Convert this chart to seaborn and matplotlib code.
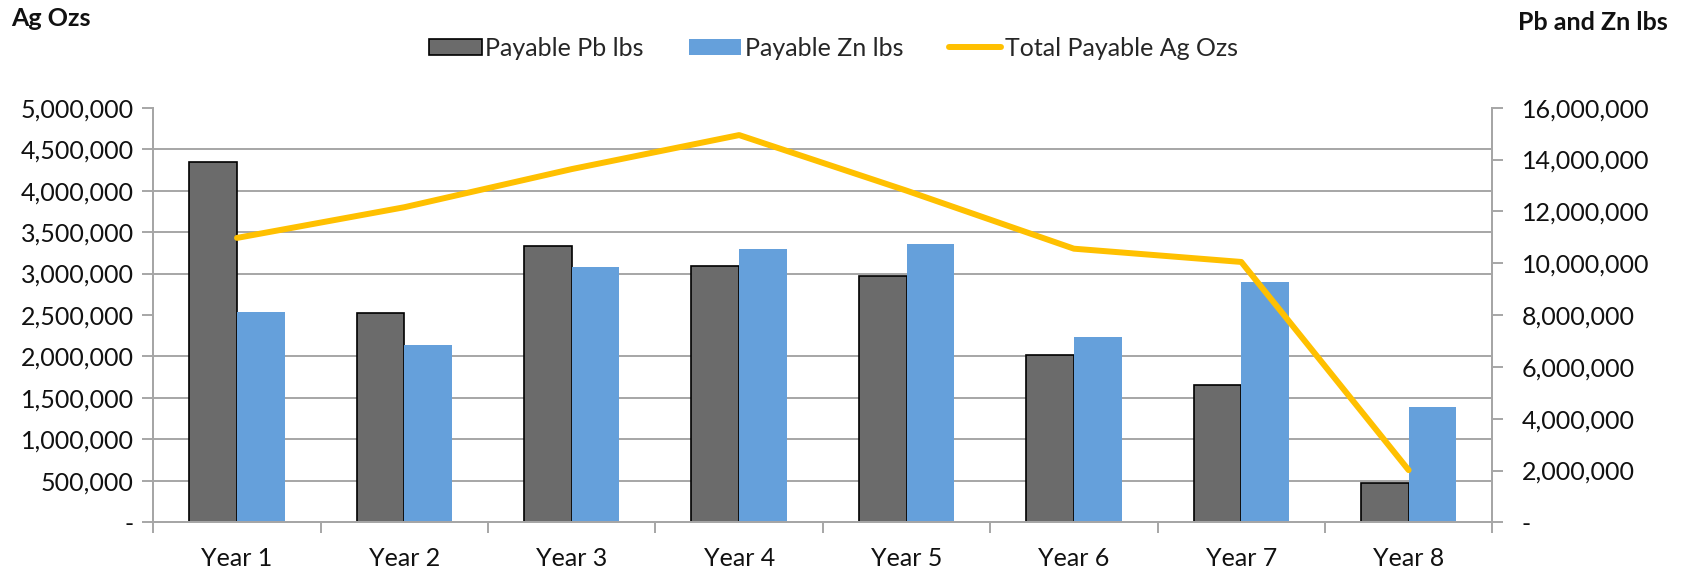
import numpy as np
import pandas as pd
import matplotlib
matplotlib.use('Agg')
import matplotlib.pyplot as plt
import matplotlib.ticker as mticker
from matplotlib.patches import Patch
from matplotlib.lines import Line2D
import seaborn as sns

years = ['Year 1', 'Year 2', 'Year 3', 'Year 4', 'Year 5', 'Year 6', 'Year 7', 'Year 8']
pb_lbs = [13.92e6, 8.08e6, 10.65e6, 9.89e6, 9.50e6, 6.46e6, 5.30e6, 1.53e6]
zn_lbs = [8.11e6, 6.83e6, 9.86e6, 10.54e6, 10.74e6, 7.16e6, 9.26e6, 4.46e6]
ag_ozs = [3.43e6, 3.80e6, 4.26e6, 4.67e6, 4.00e6, 3.30e6, 3.14e6, 0.63e6]

PB = '#6B6B6B'; ZN = '#65A0DB'; AG = '#FFC000'; GRID = '#A6A6A6'; TXT = '#111111'
FS = 18

sns.set_style('white')
plt.rcParams['font.family'] = ['Lato', 'DejaVu Sans']

df = pd.DataFrame({
    'year': years * 2,
    'lbs': pb_lbs + zn_lbs,
    'series': ['Payable Pb lbs'] * len(years) + ['Payable Zn lbs'] * len(years),
})

fig, ax = plt.subplots(figsize=(16.87, 5.72), dpi=100)
fig.subplots_adjust(left=0.0909, right=0.8846, bottom=0.0868, top=0.8117)

# bars on the Pb/Zn (right-hand) scale
sns.barplot(data=df, x='year', y='lbs', hue='series', palette=[PB, ZN],
            width=0.57, gap=0, saturation=1, legend=False, ax=ax, zorder=2)
for bar in ax.containers[0]:
    bar.set_edgecolor('black'); bar.set_linewidth(1.2)
for bar in ax.containers[1]:
    bar.set_edgecolor('none')

# line on the Ag (left-hand) scale
ax2 = ax.twinx()
sns.pointplot(x=years, y=ag_ozs, color=AG, marker='', linewidth=4.3,
              errorbar=None, ax=ax2)

fmt = mticker.FuncFormatter(lambda v, p: '-' if v == 0 else f'{v:,.0f}')

ax.set_ylim(0, 16e6)
ax.yaxis.tick_right()
ax.set_yticks(np.arange(0, 16e6 + 1, 2e6))
ax.yaxis.set_major_formatter(fmt)
ax.set_yticks(np.arange(0, 16e6 + 1, 1.6e6), minor=True)
ax.grid(which='minor', axis='y', color=GRID, linewidth=1.4, zorder=0)
ax.set_axisbelow(True)
ax.tick_params(axis='y', which='major', direction='out', length=8, width=1.4,
               color=GRID, labelsize=FS, labelcolor=TXT, pad=13, right=True, left=False)
ax.tick_params(axis='y', which='minor', length=0)

ax2.set_ylim(0, 5e6)
ax2.yaxis.tick_left()
ax2.set_yticks(np.arange(0, 5e6 + 1, 5e5))
ax2.yaxis.set_major_formatter(fmt)
ax2.tick_params(axis='y', direction='out', length=8, width=1.4, color=GRID,
                labelsize=FS, labelcolor=TXT, pad=6, left=True, right=False)

ax.set_xlim(-0.5, len(years) - 0.5)
ax.set_xticks(np.arange(len(years)))
ax.set_xticklabels(years)
ax.set_xticks(np.arange(-0.5, len(years), 1), minor=True)
ax.tick_params(axis='x', which='major', length=0, labelsize=FS, labelcolor=TXT, pad=18)
ax.tick_params(axis='x', which='minor', direction='out', length=8, width=1.4,
               color=GRID, bottom=True)

for a in (ax, ax2):
    a.set_xlabel(''); a.set_ylabel('')
    a.spines['top'].set_visible(False)
    for s in ('left', 'right', 'bottom'):
        a.spines[s].set_color(GRID)
        a.spines[s].set_linewidth(1.4)

fig.text(0.0065, 0.968, 'Ag Ozs', fontsize=FS, fontweight='bold', color=TXT,
         ha='left', va='center')
fig.text(0.9885, 0.961, 'Pb and Zn lbs', fontsize=FS, fontweight='bold', color=TXT,
         ha='right', va='center')

handles = [Patch(facecolor=PB, edgecolor='black', linewidth=1.2),
           Patch(facecolor=ZN, edgecolor='none'),
           Line2D([0], [0], color=AG, linewidth=4.3)]
labels = ['Payable Pb lbs', 'Payable Zn lbs', 'Total Payable Ag Ozs']
fig.legend(handles, labels, loc='center', bbox_to_anchor=(0.494, 0.916), ncol=3,
           frameon=False, fontsize=FS, handlelength=2.1, handleheight=0.6,
           handletextpad=0.15, columnspacing=1.8)

fig.savefig('out.png', dpi=100)
